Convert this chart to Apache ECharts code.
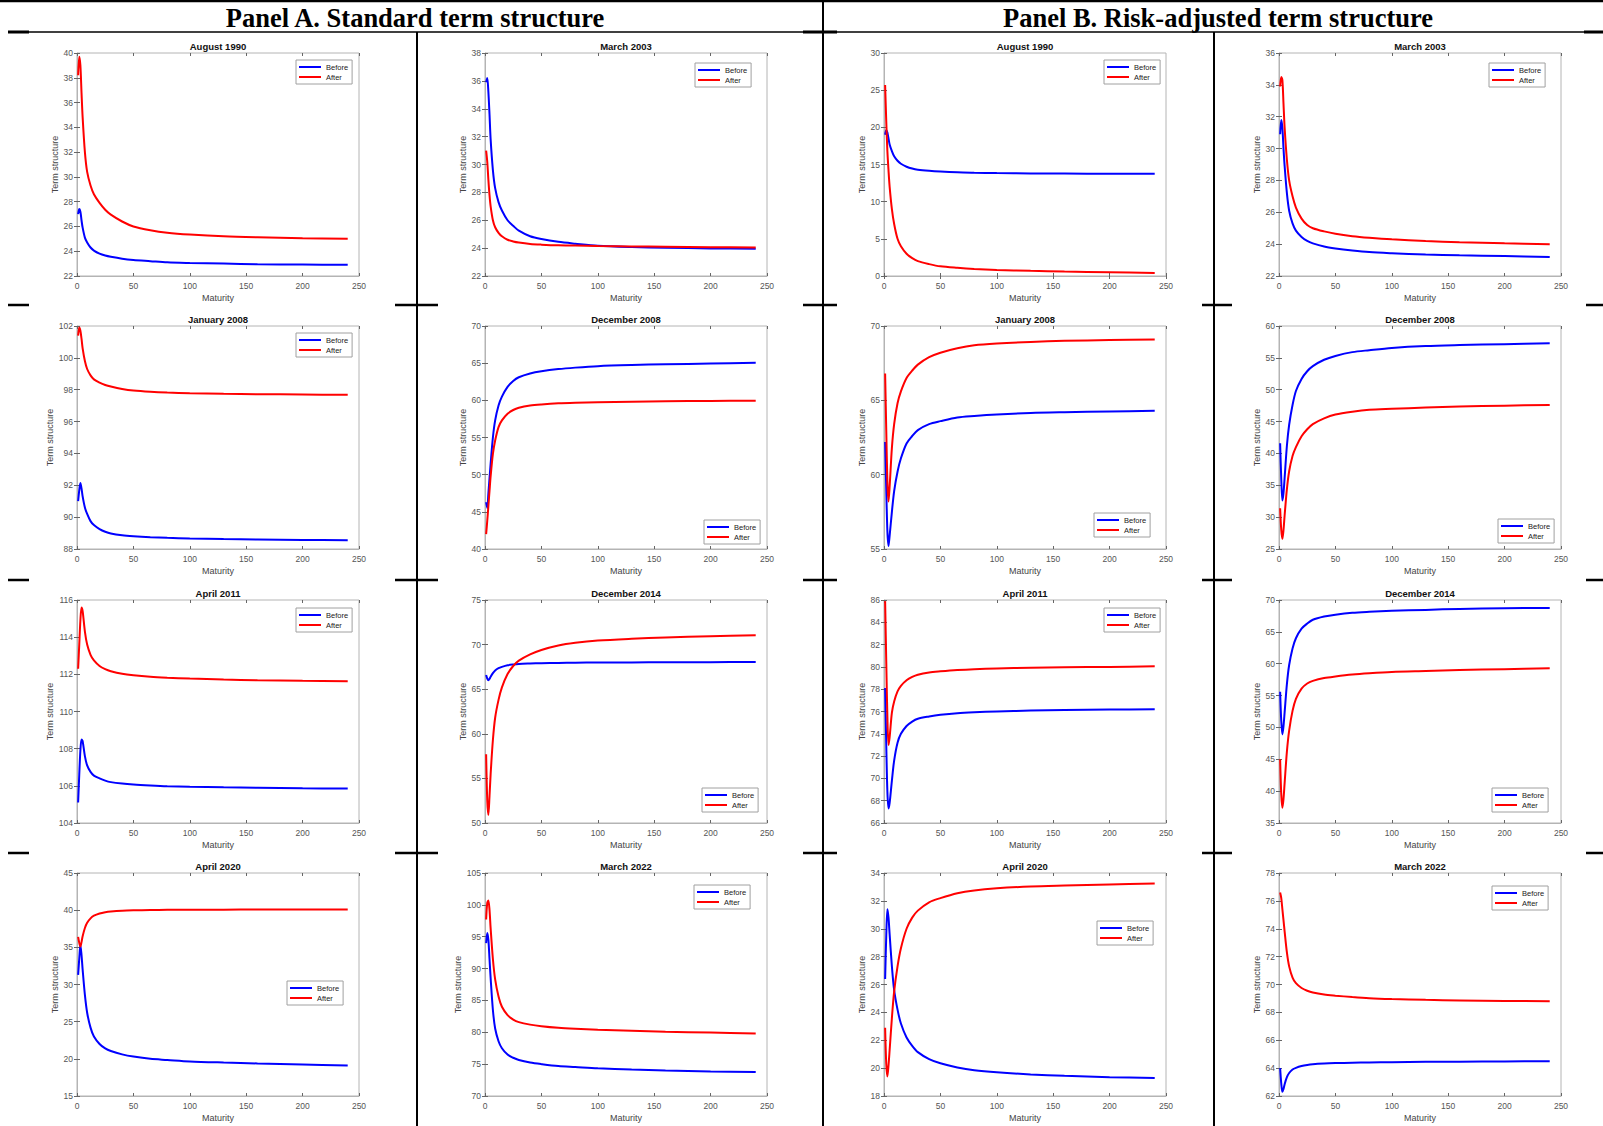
<!DOCTYPE html>
<html>
<head>
<meta charset="utf-8">
<script src="https://cdn.jsdelivr.net/npm/echarts@6/dist/echarts.min.js"></script>
<style>
html,body{margin:0;padding:0;background:#fff;}
#c{width:1603px;height:1126px;}
</style>
</head>
<body>
<div id="c"></div>
<script>
// ---------- DATA ----------
const maturity = [1, 2, 3, 4, 5, 7, 9, 12, 15, 20, 25, 30, 40, 50, 65, 80, 100, 130, 160, 200, 240];
const xTickMin = 0, xTickMax = 250, xTickStep = 50;

const panelTitles = ['Panel A. Standard term structure', 'Panel B. Risk-adjusted term structure'];
const chartTitles = [
  'August 1990', 'March 2003', 'August 1990', 'March 2003',
  'January 2008', 'December 2008', 'January 2008', 'December 2008',
  'April 2011', 'December 2014', 'April 2011', 'December 2014',
  'April 2020', 'March 2022', 'April 2020', 'March 2022'
];
const seriesNames = ['Before', 'After'];
const yTickMin  = [22, 22, 0, 22,   88, 40, 55, 25,   104, 50, 66, 35,   15, 70, 18, 62];
const yTickMax  = [40, 38, 30, 36,  102, 70, 70, 60,  116, 75, 86, 70,   45, 105, 34, 78];
const yTickStep = [2, 2, 5, 2,      2, 5, 5, 5,       2, 5, 2, 5,        5, 5, 2, 2];

// Panel A: standard term structure
const stdAug1990Before = [27.0, 27.4, 27.2, 26.5, 25.9, 25.1, 24.7, 24.3, 24.05, 23.8, 23.65, 23.55, 23.4, 23.3, 23.2, 23.1, 23.05, 23.0, 22.95, 22.92, 22.9];
const stdAug1990After  = [38.2, 39.7, 39.0, 36.8, 34.8, 32.0, 30.4, 29.3, 28.6, 27.9, 27.35, 26.95, 26.4, 26.0, 25.7, 25.5, 25.35, 25.2, 25.12, 25.05, 25.0];
const stdMar2003Before = [35.9, 36.2, 35.2, 33.6, 31.8, 29.6, 28.3, 27.3, 26.7, 26.0, 25.6, 25.25, 24.85, 24.65, 24.45, 24.32, 24.17, 24.08, 24.03, 23.98, 23.95];
const stdMar2003After  = [31.0, 30.2, 28.9, 27.8, 27.0, 26.0, 25.5, 25.1, 24.85, 24.6, 24.48, 24.4, 24.3, 24.25, 24.2, 24.18, 24.15, 24.12, 24.1, 24.07, 24.05];
const stdJan2008Before = [91.0, 91.7, 92.15, 91.8, 91.3, 90.6, 90.2, 89.75, 89.5, 89.25, 89.08, 88.97, 88.86, 88.8, 88.74, 88.7, 88.66, 88.62, 88.6, 88.57, 88.55];
const stdJan2008After  = [101.4, 101.9, 101.7, 101.2, 100.6, 99.8, 99.3, 98.9, 98.65, 98.45, 98.3, 98.2, 98.05, 97.95, 97.87, 97.82, 97.78, 97.74, 97.72, 97.7, 97.68];
const stdDec2008Before = [46.3, 45.5, 47.5, 49.5, 51.5, 55.0, 57.3, 59.3, 60.5, 61.8, 62.6, 63.1, 63.6, 63.9, 64.2, 64.4, 64.6, 64.75, 64.85, 64.95, 65.05];
const stdDec2008After  = [42.0, 43.8, 45.8, 47.8, 49.8, 52.8, 54.6, 56.4, 57.3, 58.2, 58.7, 59.0, 59.3, 59.45, 59.6, 59.68, 59.75, 59.82, 59.87, 59.92, 59.96];
const stdApr2011Before = [105.1, 106.6, 107.9, 108.5, 108.4, 107.6, 107.1, 106.75, 106.55, 106.4, 106.28, 106.2, 106.12, 106.07, 106.02, 105.98, 105.95, 105.92, 105.9, 105.87, 105.85];
const stdApr2011After  = [112.3, 113.6, 114.9, 115.6, 115.4, 114.3, 113.6, 113.05, 112.75, 112.45, 112.28, 112.17, 112.03, 111.95, 111.87, 111.82, 111.77, 111.72, 111.68, 111.65, 111.63];
const stdDec2014Before = [66.6, 66.2, 66.0, 66.15, 66.4, 66.8, 67.1, 67.35, 67.5, 67.68, 67.77, 67.83, 67.88, 67.92, 67.95, 67.97, 67.99, 68.0, 68.02, 68.03, 68.05];
const stdDec2014After  = [57.7, 52.5, 50.9, 53.0, 55.5, 59.3, 61.8, 63.8, 65.2, 66.7, 67.6, 68.2, 68.9, 69.4, 69.9, 70.2, 70.45, 70.65, 70.8, 70.95, 71.05];
const stdApr2020Before = [31.3, 33.5, 35.3, 34.0, 32.0, 28.6, 26.2, 24.2, 23.0, 22.0, 21.4, 21.05, 20.6, 20.3, 20.0, 19.85, 19.65, 19.5, 19.38, 19.25, 19.1];
const stdApr2020After  = [36.4, 35.6, 35.1, 35.7, 36.5, 37.6, 38.3, 38.9, 39.25, 39.55, 39.72, 39.82, 39.93, 39.98, 40.02, 40.04, 40.06, 40.07, 40.08, 40.09, 40.1];
const stdMar2022Before = [94.0, 95.6, 94.5, 91.5, 88.5, 83.5, 80.6, 78.6, 77.5, 76.5, 76.0, 75.65, 75.25, 75.0, 74.7, 74.55, 74.35, 74.15, 74.0, 73.85, 73.75];
const stdMar2022After  = [97.7, 100.3, 100.7, 99.2, 96.3, 91.5, 88.3, 85.6, 84.0, 82.7, 82.0, 81.6, 81.2, 80.95, 80.7, 80.55, 80.4, 80.25, 80.1, 79.95, 79.8];

// Panel B: risk-adjusted term structure
const raAug1990Before = [19.0, 19.6, 19.3, 18.5, 17.7, 16.8, 16.1, 15.5, 15.1, 14.7, 14.45, 14.3, 14.15, 14.05, 13.95, 13.9, 13.85, 13.8, 13.78, 13.76, 13.74];
const raAug1990After  = [25.7, 20.8, 16.8, 14.2, 12.0, 9.0, 7.0, 5.0, 4.0, 3.0, 2.4, 2.0, 1.6, 1.3, 1.1, 0.95, 0.82, 0.7, 0.6, 0.5, 0.4];
const raMar2003Before = [30.9, 31.8, 31.3, 30.0, 28.9, 27.2, 26.1, 25.3, 24.85, 24.45, 24.2, 24.05, 23.85, 23.73, 23.6, 23.5, 23.43, 23.35, 23.3, 23.25, 23.2];
const raMar2003After  = [33.9, 34.5, 34.3, 32.8, 31.3, 29.3, 28.0, 27.0, 26.3, 25.6, 25.2, 25.0, 24.8, 24.65, 24.5, 24.4, 24.3, 24.2, 24.12, 24.05, 24.0];
const raJan2008Before = [62.2, 59.0, 56.2, 55.2, 55.9, 57.5, 58.9, 60.2, 61.1, 62.1, 62.6, 63.0, 63.4, 63.6, 63.85, 63.95, 64.05, 64.15, 64.2, 64.25, 64.3];
const raJan2008After  = [66.8, 63.0, 59.5, 58.2, 59.2, 61.8, 63.4, 64.8, 65.6, 66.5, 67.0, 67.4, 67.9, 68.2, 68.5, 68.7, 68.82, 68.93, 69.0, 69.05, 69.1];
const raDec2008Before = [41.6, 36.0, 32.6, 33.8, 36.2, 41.2, 44.5, 47.6, 49.8, 51.7, 52.9, 53.7, 54.7, 55.3, 55.9, 56.2, 56.55, 56.85, 57.0, 57.15, 57.3];
const raDec2008After  = [31.4, 28.0, 26.6, 28.0, 30.3, 34.4, 37.2, 39.6, 41.0, 42.7, 43.8, 44.6, 45.5, 46.1, 46.55, 46.85, 47.0, 47.2, 47.35, 47.5, 47.6];
const raApr2011Before = [78.1, 73.0, 68.8, 67.3, 67.8, 69.8, 71.6, 73.2, 74.0, 74.7, 75.1, 75.35, 75.55, 75.7, 75.85, 75.93, 76.0, 76.08, 76.13, 76.17, 76.2];
const raApr2011After  = [85.9, 80.5, 75.5, 73.0, 73.7, 75.9, 76.9, 77.8, 78.3, 78.8, 79.1, 79.3, 79.5, 79.6, 79.72, 79.8, 79.86, 79.92, 79.96, 80.0, 80.05];
const raDec2014Before = [55.6, 51.0, 48.9, 50.2, 52.4, 56.8, 59.8, 62.4, 64.0, 65.5, 66.3, 66.9, 67.4, 67.7, 68.0, 68.15, 68.3, 68.45, 68.6, 68.7, 68.75];
const raDec2014After  = [45.0, 39.5, 37.4, 38.8, 41.3, 46.2, 49.5, 52.6, 54.5, 56.1, 56.9, 57.3, 57.75, 58.0, 58.3, 58.5, 58.7, 58.85, 59.0, 59.15, 59.3];
const raApr2020Before = [26.4, 29.5, 31.4, 30.8, 29.6, 27.3, 25.6, 24.2, 23.2, 22.2, 21.6, 21.15, 20.65, 20.35, 20.05, 19.85, 19.7, 19.55, 19.45, 19.35, 19.3];
const raApr2020After  = [22.9, 20.3, 19.4, 20.2, 21.3, 23.6, 25.5, 27.3, 28.6, 30.0, 30.8, 31.3, 31.9, 32.2, 32.55, 32.75, 32.9, 33.03, 33.1, 33.18, 33.25];
const raMar2022Before = [64.0, 62.9, 62.3, 62.5, 62.85, 63.35, 63.65, 63.9, 64.02, 64.15, 64.23, 64.28, 64.33, 64.36, 64.39, 64.41, 64.43, 64.45, 64.46, 64.48, 64.5];
const raMar2022After  = [76.6, 76.2, 75.4, 74.6, 73.8, 72.3, 71.3, 70.5, 70.1, 69.75, 69.55, 69.42, 69.28, 69.2, 69.1, 69.02, 68.96, 68.9, 68.86, 68.82, 68.8];

const beforeSeries = [
  stdAug1990Before, stdMar2003Before, raAug1990Before, raMar2003Before,
  stdJan2008Before, stdDec2008Before, raJan2008Before, raDec2008Before,
  stdApr2011Before, stdDec2014Before, raApr2011Before, raDec2014Before,
  stdApr2020Before, stdMar2022Before, raApr2020Before, raMar2022Before
];
const afterSeries = [
  stdAug1990After, stdMar2003After, raAug1990After, raMar2003After,
  stdJan2008After, stdDec2008After, raJan2008After, raDec2008After,
  stdApr2011After, stdDec2014After, raApr2011After, raDec2014After,
  stdApr2020After, stdMar2022After, raApr2020After, raMar2022After
];

// ---------- LAYOUT ----------
const colLeft = [77, 485, 884, 1279];
const rowTop = [53, 326, 600, 873];
const plotW = 282, plotH = 223;
const legendPos = [
  [296, 60], [695, 63], [1104, 60], [1489, 63],
  [296, 333], [704, 520], [1094, 513], [1498, 519],
  [296, 608], [702, 788], [1104, 608], [1492, 788],
  [287, 981], [694, 885], [1097, 921], [1492, 886]
];
const FONT = '"Liberation Sans", Arial, Helvetica, sans-serif';
const BOX = '#b4b4b4';
const LABEL = '#555';

const chart = echarts.init(document.getElementById('c'), null, {renderer: 'svg', width: 1603, height: 1126});

const grids = [], xPrim = [], yPrim = [], xMir = [], yMir = [], series = [], legends = [], graphics = [];
const N = chartTitles.length;

for (let i = 0; i < N; i++) {
  const r = Math.floor(i / 4), c = i % 4;
  const left = colLeft[c], top = rowTop[r];
  grids.push({left: left, top: top, width: plotW, height: plotH, show: true, borderColor: BOX, borderWidth: 1,
    backgroundColor: '#fff', containLabel: false, outerBoundsMode: 'none'});
  const tick = {show: true, inside: true, length: 3, lineStyle: {color: '#666', width: 1}};
  xPrim.push({type: 'value', gridIndex: i, min: xTickMin, max: xTickMax, interval: xTickStep,
    name: 'Maturity', nameLocation: 'middle', nameGap: 17,
    nameTextStyle: {fontSize: 9, color: '#444', fontFamily: FONT},
    axisLine: {show: true, lineStyle: {color: BOX}}, axisTick: tick,
    axisLabel: {fontSize: 8.5, color: LABEL, margin: 5, fontFamily: FONT},
    splitLine: {show: false}});
  const threeDigit = String(yTickMax[i]).length > 2;
  yPrim.push({type: 'value', gridIndex: i, min: yTickMin[i], max: yTickMax[i], interval: yTickStep[i],
    name: 'Term structure', nameLocation: 'middle', nameGap: threeDigit ? 21 : 17,
    nameTextStyle: {fontSize: 9, color: '#444', fontFamily: FONT},
    axisLine: {show: true, lineStyle: {color: BOX}}, axisTick: tick,
    axisLabel: {fontSize: 8.5, color: LABEL, margin: 4, fontFamily: FONT},
    splitLine: {show: false}});
  xMir.push({type: 'value', gridIndex: i, position: 'top', min: xTickMin, max: xTickMax, interval: xTickStep,
    axisLine: {show: false}, axisTick: tick, axisLabel: {show: false}, splitLine: {show: false}});
  yMir.push({type: 'value', gridIndex: i, position: 'right', min: yTickMin[i], max: yTickMax[i], interval: yTickStep[i],
    axisLine: {show: false}, axisTick: tick, axisLabel: {show: false}, splitLine: {show: false}});

  series.push({name: seriesNames[0], type: 'line', xAxisIndex: i, yAxisIndex: i, showSymbol: false, smooth: 0.3,
    data: maturity.map((m, k) => [m, beforeSeries[i][k]]),
    lineStyle: {color: '#0000ff', width: 2}, itemStyle: {color: '#0000ff'}, emphasis: {disabled: true}});
  series.push({name: seriesNames[1], type: 'line', xAxisIndex: i, yAxisIndex: i, showSymbol: false, smooth: 0.3,
    data: maturity.map((m, k) => [m, afterSeries[i][k]]),
    lineStyle: {color: '#ff0000', width: 2}, itemStyle: {color: '#ff0000'}, emphasis: {disabled: true}});

  legends.push({data: seriesNames, orient: 'vertical', left: legendPos[i][0], top: legendPos[i][1],
    icon: 'rect', itemWidth: 22, itemHeight: 2, itemGap: 2, padding: [3, 4, 3, 3],
    borderColor: '#a0a0a0', borderWidth: 1, backgroundColor: '#fff', selectedMode: false,
    textStyle: {fontSize: 7.5, color: '#222', fontFamily: FONT}});

  graphics.push({type: 'text', x: left + plotW / 2, y: top - 6.5, silent: true,
    style: {text: chartTitles[i], font: 'bold 9.5px ' + FONT, fill: '#111',
      align: 'center', verticalAlign: 'middle', textAlign: 'center', textVerticalAlign: 'middle'}});
}

// table structure
function line(x1, y1, x2, y2, w) {
  return {type: 'line', silent: true, shape: {x1: x1, y1: y1, x2: x2, y2: y2}, style: {stroke: '#000', lineWidth: w}};
}
graphics.push(line(0, 1, 1603, 1, 2.5));
graphics.push(line(8, 32, 1603, 32, 1.5));
[[8, 29], [803, 837], [1584, 1603]].forEach(s => graphics.push(line(s[0], 32, s[1], 32, 3)));
[305, 580, 853].forEach(y => {
  [[8, 29], [395, 438], [803, 837], [1202, 1232], [1586, 1603]].forEach(s => graphics.push(line(s[0], y, s[1], y, 2.5)));
});
graphics.push(line(417, 32, 417, 1126, 2));
graphics.push(line(823, 0, 823, 1126, 2));
graphics.push(line(1214, 32, 1214, 1126, 2));

// panel headers
const panelCenters = [415, 1218];
panelTitles.forEach((t, k) => {
  graphics.push({type: 'text', x: panelCenters[k], y: 18, silent: true,
    style: {text: t, font: 'bold 26.5px "Liberation Serif", "Times New Roman", serif', fill: '#000',
      align: 'center', verticalAlign: 'middle', textAlign: 'center', textVerticalAlign: 'middle'}});
});

chart.setOption({
  animation: false,
  backgroundColor: '#fff',
  grid: grids,
  xAxis: xPrim.concat(xMir),
  yAxis: yPrim.concat(yMir),
  legend: legends,
  series: series,
  graphic: graphics
});
</script>
</body>
</html>
